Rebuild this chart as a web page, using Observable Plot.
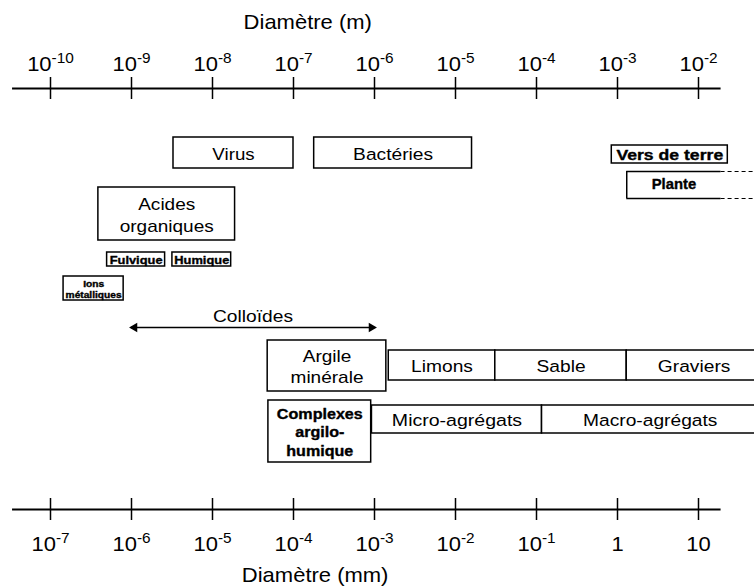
<!DOCTYPE html>
<html><head><meta charset="utf-8">
<script src="https://cdn.jsdelivr.net/npm/d3@7"></script>
<script src="https://cdn.jsdelivr.net/npm/@observablehq/plot@0.6"></script>
<style>html,body{margin:0;padding:0;background:#fff} #chart svg{display:block;overflow:hidden}</style>
</head><body><div id="chart"></div>
<script>
// ---------- DATA (diameters in metres) ----------
const tickValues   = [1e-10, 1e-9, 1e-8, 1e-7, 1e-6, 1e-5, 1e-4, 1e-3, 1e-2];
const tickLabelsM  = ["10^-10","10^-9","10^-8","10^-7","10^-6","10^-5","10^-4","10^-3","10^-2"];
const tickLabelsMM = ["10^-7","10^-6","10^-5","10^-4","10^-3","10^-2","10^-1","1","10"];
const axisExtent   = [3.4e-11, 1.9e-2];
const titleTop     = "Diamètre (m)";
const titleBottom  = "Diamètre (mm)";
const titleTopAt   = 1.5e-7;
const titleBottomAt = 1.85e-7;

const objectNames = ["Virus","Bactéries","Vers de terre","Acides\norganiques","Fulvique","Humique",
  "Ions\nmétalliques","Argile\nminérale","Limons","Sable","Graviers","Complexes\nargilo-\nhumique",
  "Micro-agrégats","Macro-agrégats"];
const objectMin = [3.3e-9, 1.8e-7, 8.5e-4, 3.9e-10, 5.0e-10, 3.2e-9, 1.45e-10, 4.8e-8, 1.5e-6, 3.1e-5, 1.3e-3, 4.9e-8, 9.3e-7, 1.17e-4];
const objectMax = [1.0e-7, 1.6e-5, 2.3e-2, 1.9e-8, 2.6e-9, 1.7e-8, 8.0e-10, 1.4e-6, 3.1e-5, 1.3e-3, 6.0e-2, 9.1e-7, 1.17e-4, 5.5e-2];

const planteName = "Plante";
const planteMin = 1.3e-3, planteSolidMax = 1.9e-2, planteMax = 6.0e-2;

const colloidName = "Colloïdes";
const colloidRange = [1e-9, 1e-6];

// ---------- LAYOUT (vertical lanes, sizes, styles) ----------
const laneTop     = [137, 137, 145, 187, 252, 252, 276, 340, 350, 350, 350, 400, 405, 405];
const laneBottom  = [168, 168, 163, 240, 266, 266, 300, 391, 380, 380, 380, 462, 433, 433];
const labelSize   = [17, 17, 14, 17, 11, 11, 8.5, 17, 17, 17, 17, 14, 17, 17];
const labelBold   = [false,false,true,false,true,true,true,false,false,false,false,true,false,false];
const labelStretch= [1.1, 1.13, 1.26, 1.12, 1.17, 1.17, 1.2, 1.12, 1.13, 1.13, 1.13, 1.15, 1.15, 1.13];
const labelLine   = [1.25, 1.25, 1.2, 1.3, 1.2, 1.2, 1.3, 1.2, 1.2, 1.2, 1.2, 1.32, 1.2, 1.2];
const planteLane = [171, 198];
const colloidY = 327, colloidLabelY = 316;
const axisTopY = 88, axisBottomY = 509, tickHalf = 11;
const tickLabelTopY = 64, tickLabelBottomY = 544;
const titleTopY = 22, titleBottomY = 575;
const font = "'Liberation Sans', Arial, sans-serif";

const items = objectNames.map((name, i) => ({
  name, min: objectMin[i], max: objectMax[i], top: laneTop[i], bottom: laneBottom[i]
}));
const mid = d => Math.sqrt(d.min * d.max);

// every mark is registered with its horizontal text stretch (null: not text)
const marks = [], stretches = [];
const add = (mark, stretch = null) => { marks.push(mark); stretches.push(stretch); };
const boldStroke = {stroke: "black", strokeWidth: 0.35};

// top axis
add(Plot.ruleY([axisTopY], {x1: axisExtent[0], x2: axisExtent[1], stroke: "black", strokeWidth: 2}));
add(Plot.ruleX(tickValues, {x: d => d, y1: axisTopY - tickHalf, y2: axisTopY + tickHalf, stroke: "black", strokeWidth: 1.5}));
add(Plot.text(tickValues, {x: d => d, y: tickLabelTopY, text: (d, i) => tickLabelsM[i], fontSize: 20, fill: "black"}), 1.1);
add(Plot.text([titleTop], {x: titleTopAt, y: titleTopY, text: d => d, fontSize: 20, fill: "black"}), 1.1);
// bottom axis
add(Plot.ruleY([axisBottomY], {x1: axisExtent[0], x2: axisExtent[1], stroke: "black", strokeWidth: 2}));
add(Plot.ruleX(tickValues, {x: d => d, y1: axisBottomY - tickHalf, y2: axisBottomY + tickHalf, stroke: "black", strokeWidth: 1.5}));
add(Plot.text(tickValues, {x: d => d, y: tickLabelBottomY, text: (d, i) => tickLabelsMM[i], fontSize: 20, fill: "black"}), 1.1);
add(Plot.text([titleBottom], {x: titleBottomAt, y: titleBottomY, text: d => d, fontSize: 20, fill: "black"}), 1.1);
// boxes
add(Plot.rect(items, {x1: "min", x2: "max", y1: "top", y2: "bottom", fill: "white", stroke: "black", strokeWidth: 1.5}));
items.forEach((d, i) => add(Plot.text([d], {
  x: mid, y: e => (e.top + e.bottom) / 2, text: "name", fill: "black",
  fontSize: labelSize[i], lineHeight: labelLine[i],
  fontWeight: labelBold[i] ? "bold" : "normal",
  ...(labelBold[i] ? boldStroke : {})
}), labelStretch[i]));
// Plante (open right side)
add(Plot.ruleY(planteLane, {x1: planteMin, x2: planteSolidMax, y: d => d, stroke: "black", strokeWidth: 1.5}));
add(Plot.ruleX([planteMin], {x: d => d, y1: planteLane[0], y2: planteLane[1], stroke: "black", strokeWidth: 1.5}));
add(Plot.ruleY(planteLane, {x1: planteSolidMax, x2: planteMax, y: d => d, stroke: "black", strokeWidth: 1.2, strokeDasharray: "4,3"}));
add(Plot.text([planteName], {x: Math.sqrt(planteMin * planteSolidMax), y: (planteLane[0] + planteLane[1]) / 2, text: d => d,
  fontSize: 14, fontWeight: "bold", fill: "black", ...boldStroke}), 1.06);
// Colloïdes arrow
add(Plot.ruleY([colloidY], {x1: colloidRange[0], x2: colloidRange[1], stroke: "black", strokeWidth: 1.5}));
add(Plot.dot([colloidRange[0]], {x: d => d, y: colloidY, symbol: "triangle", rotate: -90, r: 3.5, fill: "black", stroke: null, dx: 3}));
add(Plot.dot([colloidRange[1]], {x: d => d, y: colloidY, symbol: "triangle", rotate: 90, r: 3.5, fill: "black", stroke: null, dx: -3}));
add(Plot.text([colloidName], {x: Math.sqrt(colloidRange[0] * colloidRange[1]), y: colloidLabelY, text: d => d, fontSize: 17, fill: "black"}), 1.13);

const chart = Plot.plot({
  width: 754, height: 586,
  marginLeft: 50, marginRight: 56, marginTop: 0, marginBottom: 0,
  x: {type: "log", domain: [1e-10, 1e-2], axis: null},
  y: {domain: [0, 586], range: [0, 586], axis: null},
  style: {fontFamily: font, background: "white", color: "black"},
  marks
});

// superscript exponents for tick labels written as "10^e"
const svgns = "http://www.w3.org/2000/svg";
chart.querySelectorAll("text").forEach(t => {
  if (t.children.length) return;
  const m = (t.textContent || "").match(/^10\^(.+)$/);
  if (!m) return;
  t.textContent = "10";
  const ts = document.createElementNS(svgns, "tspan");
  ts.setAttribute("font-size", "14");
  ts.setAttribute("dy", "-8");
  ts.textContent = m[1];
  t.appendChild(ts);
});

// horizontal stretch of the wide Helvetica-like lettering (groups follow marks order)
const groups = Array.from(chart.children).filter(el => el.tagName.toLowerCase() === "g");
groups.forEach((g, i) => {
  const s = stretches[i];
  if (!s) return;
  g.querySelectorAll("text").forEach(t => {
    const tr = t.getAttribute("transform");
    if (tr && /translate/.test(tr)) t.setAttribute("transform", tr + ` scale(${s},1)`);
    else {
      const x = +(t.getAttribute("x") || 0);
      t.setAttribute("transform", `translate(${x},0) scale(${s},1) translate(${-x},0)`);
    }
  });
});

document.getElementById("chart").appendChild(chart);
</script>
</body></html>
